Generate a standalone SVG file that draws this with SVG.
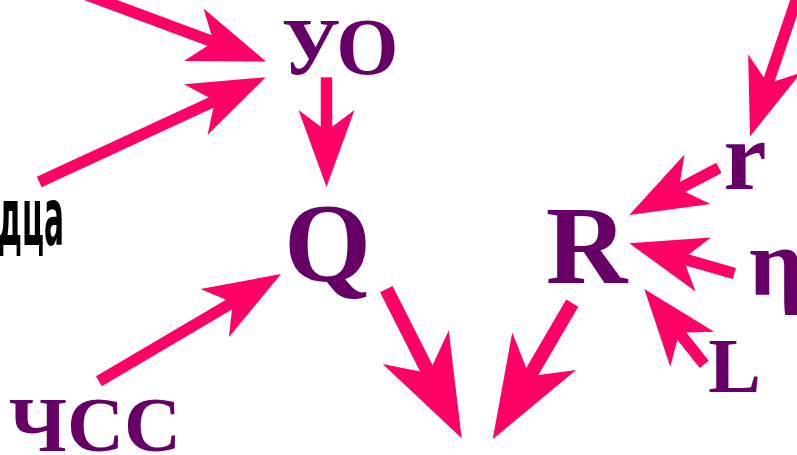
<svg xmlns="http://www.w3.org/2000/svg" xmlns:xlink="http://www.w3.org/1999/xlink" width="797" height="455" viewBox="0 0 797 455">
  <style>
    .lbl { font-family: "Liberation Serif", "Times New Roman", serif; font-weight: bold; fill: #660066; }
    .blk { font-family: "Liberation Sans Narrow", "DejaVu Sans Condensed", "Liberation Sans", sans-serif; font-weight: bold; fill: #000000; }
    .sh { stroke: #FF0066; stroke-width: 11.5; stroke-linecap: butt; fill: none; }
    .shL { stroke: #FF0066; stroke-width: 14; stroke-linecap: butt; fill: none; }
    .hd { fill: #FF0066; }
  </style>
  <defs>
    <path id="hd" class="hd" d="M0,0 L-77,-28 L-56,0 L-77,28 Z"/>
    <path id="hdL" class="hd" d="M0,0 L-102,-37 L-73,0 L-102,37 Z"/>
  </defs>
  <rect width="797" height="455" fill="#ffffff"/>

  <g id="connectors">
    <g id="a1" transform="translate(266,61.5) rotate(20.4)"><line class="sh" x1="-200" y1="0" x2="-52" y2="0"/><use xlink:href="#hd" href="#hd"/></g>
    <g id="a2" transform="translate(265.7,77.3) rotate(-24.8)"><line class="sh" x1="-249.5" y1="0" x2="-52" y2="0"/><use xlink:href="#hd" href="#hd"/></g>
    <g id="a3" transform="translate(326.5,187) rotate(90)"><line class="sh" x1="-109.7" y1="0" x2="-52" y2="0"/><use xlink:href="#hd" href="#hd"/></g>
    <g id="a4" transform="translate(281,274) rotate(-30.5)"><line class="sh" x1="-211.3" y1="0" x2="-52" y2="0"/><use xlink:href="#hd" href="#hd"/></g>
    <g id="a5" transform="translate(461.7,438.3) rotate(63.2)"><line class="shL" x1="-167.2" y1="0" x2="-68" y2="0"/><use xlink:href="#hdL" href="#hdL"/></g>
    <g id="a6" transform="translate(492.7,439.3) rotate(120.3)"><line class="shL" x1="-157.7" y1="0" x2="-68" y2="0"/><use xlink:href="#hdL" href="#hdL"/></g>
    <g id="a7" transform="translate(629.3,215) rotate(152.3)"><line class="sh" x1="-101.2" y1="0" x2="-52" y2="0"/><use xlink:href="#hd" href="#hd"/></g>
    <g id="a8" transform="translate(629.3,243.3) rotate(-164)"><line class="sh" x1="-109.3" y1="0" x2="-52" y2="0"/><use xlink:href="#hd" href="#hd"/></g>
    <g id="a9" transform="translate(644.3,289) rotate(-128.5)"><line class="sh" x1="-96.3" y1="0" x2="-52" y2="0"/><use xlink:href="#hd" href="#hd"/></g>
    <g id="a10" transform="translate(750,136.5) rotate(108.7)"><line class="sh" x1="-160" y1="0" x2="-52" y2="0"/><use xlink:href="#hd" href="#hd"/></g>
  </g>

  <g id="node-uo"><text class="lbl" x="340" y="74" font-size="80" text-anchor="middle">УО</text></g>
  <g id="node-q"><text class="lbl" x="327.5" y="281" font-size="112" text-anchor="middle">Q</text></g>
  <g id="node-r-big"><text class="lbl" x="586.5" y="282.7" font-size="113" text-anchor="middle">R</text></g>
  <g id="node-r"><text class="lbl" x="745" y="189.3" font-size="97" text-anchor="middle">r</text></g>
  <g id="node-eta"><text class="lbl" x="749" y="295" font-size="96">η</text></g>
  <g id="node-l"><text class="lbl" x="734.5" y="391.7" font-size="79" text-anchor="middle">L</text></g>
  <g id="node-chss"><text class="lbl" x="95" y="450.5" font-size="79" text-anchor="middle">ЧСС</text></g>
  <g id="node-heart"><text class="blk" x="-2" y="245" font-size="80" textLength="66" lengthAdjust="spacingAndGlyphs">дца</text></g>
</svg>
